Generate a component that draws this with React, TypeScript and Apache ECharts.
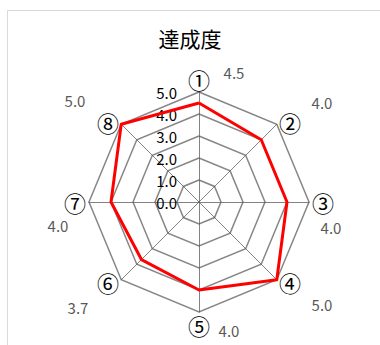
import React, { useEffect, useRef } from "react";
import * as echarts from "echarts";

const TITLE = "達成度";
const CATEGORIES = ["①", "②", "③", "④", "⑤", "⑥", "⑦", "⑧"];
const VALUES = [4.5, 4.0, 4.0, 5.0, 4.0, 3.7, 4.0, 5.0];
const AXIS_MIN = 0;
const AXIS_MAX = 5;
const AXIS_INTERVAL = 1;

// layout (not data)
const CENTER: [number, number] = [199, 202];
const RADIUS = 110;
const VALUE_LABEL_OFFSETS: [number, number][] = [
  [35, -130],
  [123, -100],
  [132, 25],
  [123, 102],
  [30, 128],
  [-121, 105],
  [-141, 23],
  [-124, -102],
];
const FONT = '"Noto Sans CJK JP", "Noto Sans", sans-serif';

// ECharts radar runs counter-clockwise; keep first item at top and reverse the rest
const ORDER = CATEGORIES.map((_, i) => (i === 0 ? 0 : CATEGORIES.length - i));

export default function App() {
  const ref = useRef<HTMLDivElement>(null);
  useEffect(() => {
    if (!ref.current) return;
    const chart = echarts.init(ref.current, undefined, { renderer: "svg" });
    const valueLabels = VALUES.map((v, i) => ({
      type: "text",
      x: CENTER[0] + VALUE_LABEL_OFFSETS[i][0],
      y: CENTER[1] + VALUE_LABEL_OFFSETS[i][1],
      style: {
        text: v.toFixed(1),
        fill: "#595959",
        fontSize: 15,
        fontFamily: FONT,
        align: "center",
        verticalAlign: "middle",
      },
      z: 10,
    }));
    chart.setOption({
      animation: false,
      backgroundColor: "#ffffff",
      title: {
        text: TITLE,
        left: "center",
        top: 27,
        padding: 0,
        textStyle: { fontSize: 21, fontWeight: "normal", color: "#000", fontFamily: FONT },
      },
      graphic: [
        {
          type: "rect",
          shape: { x: 7.5, y: 10.5, width: 420, height: 400 },
          style: { fill: "none", stroke: "#d9d9d9", lineWidth: 1 },
          z: -1,
        },
        ...valueLabels,
      ],
      radar: {
        center: CENTER,
        radius: RADIUS,
        startAngle: 90,
        shape: "polygon",
        splitNumber: (AXIS_MAX - AXIS_MIN) / AXIS_INTERVAL,
        nameGap: 3,
        axisName: { color: "#000", fontSize: 22, lineHeight: 20, fontFamily: FONT },
        indicator: ORDER.map((k) =>
          k === 0
            ? {
                name: CATEGORIES[k],
                min: AXIS_MIN,
                max: AXIS_MAX,
                axisLabel: {
                  show: true,
                  showMinLabel: true,
                  showMaxLabel: true,
                  margin: 22,
                  color: "#000",
                  fontSize: 15,
                  fontFamily: FONT,
                  formatter: (v: number) => v.toFixed(1),
                },
              }
            : { name: CATEGORIES[k], min: AXIS_MIN, max: AXIS_MAX }
        ),
        axisLabel: { show: false },
        axisTick: { show: false },
        axisLine: { show: true, lineStyle: { color: "#595959", width: 0.75 } },
        splitLine: { show: true, lineStyle: { color: "#868686", width: 1.5 } },
        splitArea: { show: false },
      },
      series: [
        {
          type: "radar",
          symbol: "none",
          lineStyle: { color: "#ff0000", width: 3 },
          data: [{ value: ORDER.map((k) => VALUES[k]), name: TITLE }],
        },
      ],
    });
    return () => chart.dispose();
  }, []);
  return (
    <div
      ref={ref}
      style={{ position: "fixed", left: 0, top: 0, width: 380, height: 345, background: "#fff" }}
    />
  );
}
